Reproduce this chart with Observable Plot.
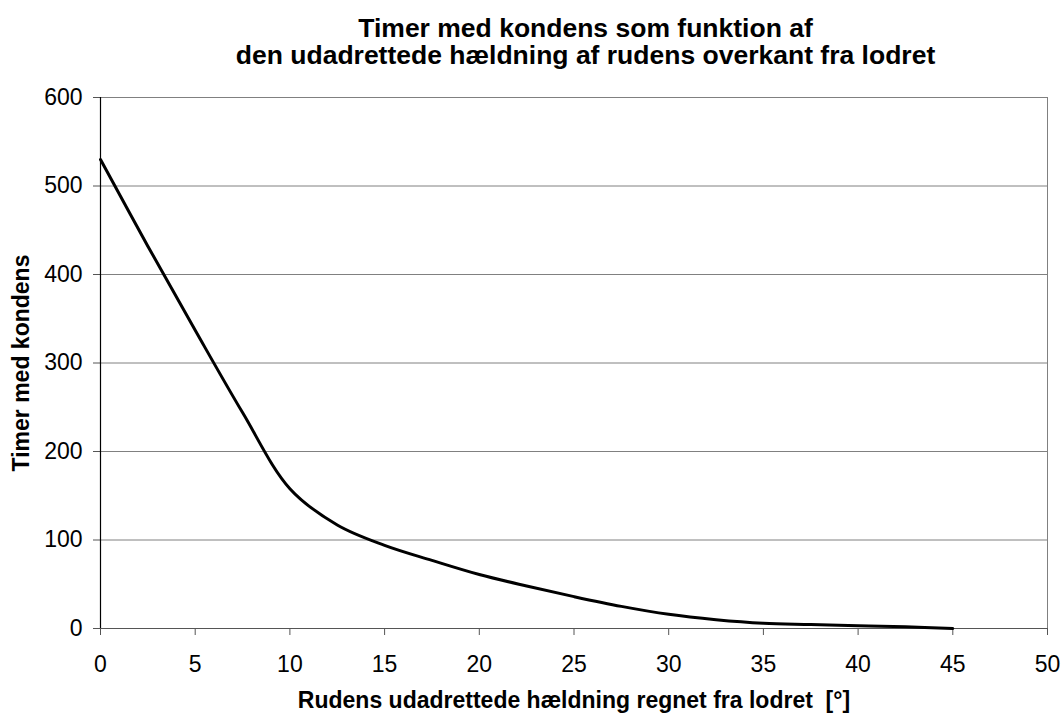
<!DOCTYPE html>
<html>
<head>
<meta charset="utf-8">
<script src="https://cdn.jsdelivr.net/npm/d3@7"></script>
<script src="https://cdn.jsdelivr.net/npm/@observablehq/plot@0.6"></script>
<style>
  html, body { margin: 0; padding: 0; background: #fff; }
  body { width: 1061px; height: 713px; overflow: hidden; font-family: "Liberation Sans", Arial, sans-serif; }
  #title { box-sizing: border-box; width: 1061px; height: 80px; padding-left: 110px; padding-top: 15px;
           text-align: center; font-weight: bold; font-size: 26.5px; line-height: 27px; color: #000; white-space: nowrap; }
</style>
</head>
<body>
<div id="title">Timer med kondens som funktion af<br>den udadrettede hældning af rudens overkant fra lodret</div>
<div id="chart"></div>
<script>
const angles = [0, 2.5, 5, 7.5, 10, 12.5, 15, 17.5, 20, 22.5, 25, 27.5, 30, 32.5, 35, 37.5, 40, 42.5, 45];
const hours  = [530, 432, 337, 244, 158, 117, 94, 77, 61, 48, 36, 25, 16, 10, 6, 4.5, 3, 2, 0];
const xTicks = [0, 5, 10, 15, 20, 25, 30, 35, 40, 45, 50];
const yTicks = [0, 100, 200, 300, 400, 500, 600];
const xLabel = "Rudens udadrettede hældning regnet fra lodret  [°]";
const yLabel = "Timer med kondens";

const data = angles.map((a, i) => ({angle: a, hours: hours[i]}));

const chart = Plot.plot({
  width: 1061,
  height: 633,
  marginTop: 17,
  marginBottom: 85,
  marginLeft: 100,
  marginRight: 14,
  style: {fontFamily: "'Liberation Sans', Arial, sans-serif", fontSize: "23px", color: "#000", background: "#fff"},
  x: {domain: [0, 50]},
  y: {domain: [0, 600]},
  marks: [
    Plot.ruleY(yTicks, {stroke: "#808080", strokeWidth: 1}),
    Plot.ruleX([50], {stroke: "#808080", strokeWidth: 1}),
    Plot.axisY({ticks: yTicks, tickSize: 7, tickPadding: 11, tickFormat: d => String(d), stroke: "#555",
                fontSize: 23, label: null}),
    Plot.axisX({ticks: xTicks, tickSize: 7, tickPadding: 20, tickFormat: d => String(d), stroke: "#555",
                fontSize: 23, label: null}),
    Plot.text([xLabel], {frameAnchor: "bottom", dy: 72, textAnchor: "middle", fontWeight: "bold", fontSize: 23, lineAnchor: "middle"}),
    Plot.text([yLabel], {frameAnchor: "left", dx: -79, rotate: -90, textAnchor: "middle", fontWeight: "bold", fontSize: 23, lineAnchor: "middle"}),
    Plot.ruleY([0], {stroke: "#555", strokeWidth: 1.2}),
    Plot.ruleX([0], {stroke: "#000", strokeWidth: 1.2}),
    Plot.line(data, {x: "angle", y: "hours", curve: "catmull-rom", stroke: "#000", strokeWidth: 3})
  ]
});
document.getElementById("chart").appendChild(chart);
</script>
</body>
</html>
